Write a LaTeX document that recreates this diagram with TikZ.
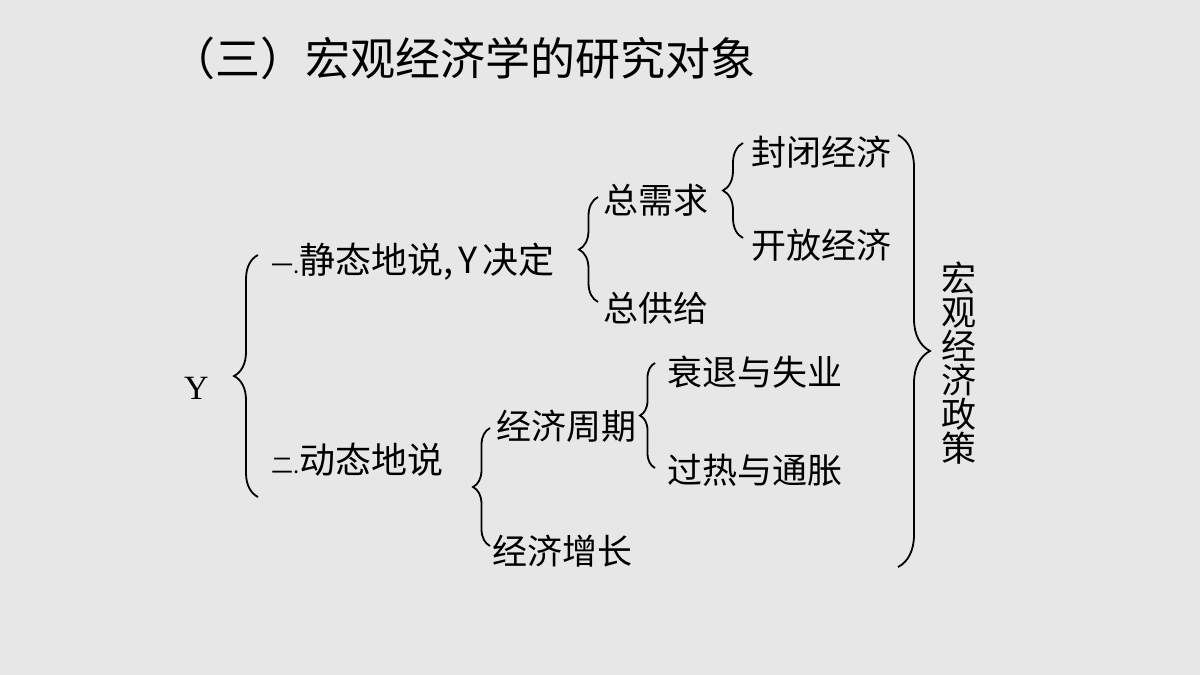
\documentclass[tikz,border=0pt]{standalone}
\usepackage{fontspec}
\setmainfont{Noto Sans CJK SC}
\newfontfamily\serifY{Liberation Serif}
\usetikzlibrary{decorations.pathreplacing}
\definecolor{bg}{RGB}{231,231,231}
\tikzset{
  lbl/.style={anchor=west, inner sep=0pt, font=\fontsize{35}{40}\selectfont},
  brc/.style={draw=black, line width=1.8pt, decorate, decoration={brace, amplitude=#1, aspect=0.5}},
}
\begin{document}
\begin{tikzpicture}[x=1pt,y=-1pt]
\fill[bg] (0,0) rectangle (1200,675);
\useasboundingbox (0,0) rectangle (1200,675);
% title
\node[anchor=west, inner sep=0pt, font=\fontsize{45}{48}\selectfont] (title) at (170,58) {（三）宏观经济学的研究对象};
% Y
\node[anchor=west, inner sep=0pt, font=\serifY\fontsize{34}{40}\selectfont] (Y) at (184,388) {Y};
% level 1
\node[lbl, font=\fontsize{36}{40}\selectfont] (static) at (271,262) {{\fontsize{22}{22}\selectfont 一.}静态地说,\kern5pt Y\kern5pt 决定};
\node[lbl, font=\fontsize{36}{40}\selectfont] (dynamic) at (271,460) {{\fontsize{22}{22}\selectfont 二.}动态地说};
% level 2
\node[lbl] (ad) at (603,200) {总需求};
\node[lbl] (as) at (603,308) {总供给};
\node[lbl] (cycle) at (496,426) {经济周期};
\node[lbl] (growth) at (492,551) {经济增长};
% level 3
\node[lbl] (closed) at (751,152) {封闭经济};
\node[lbl] (open) at (751,245) {开放经济};
\node[lbl] (rec) at (667,372) {衰退与失业};
\node[lbl] (over) at (667,470) {过热与通胀};
% policy
\node[inner sep=0pt, align=center, font=\fontsize{35}{34}\selectfont] (policy) at (959,363) {宏\\观\\经\\济\\政\\策};
% braces (left braces drawn bottom to top)
\draw[brc=24pt] (258,497) -- (258,255);
\draw[brc=19pt] (598,302) -- (598,197);
\draw[brc=20pt] (743,238) -- (743,143);
\draw[brc=15pt] (655,468) -- (655,363);
\draw[brc=17pt] (490,546) -- (490,428);
% right brace (top to bottom)
\draw[brc=32pt] (898,135) -- (898,567);
\end{tikzpicture}
\end{document}
